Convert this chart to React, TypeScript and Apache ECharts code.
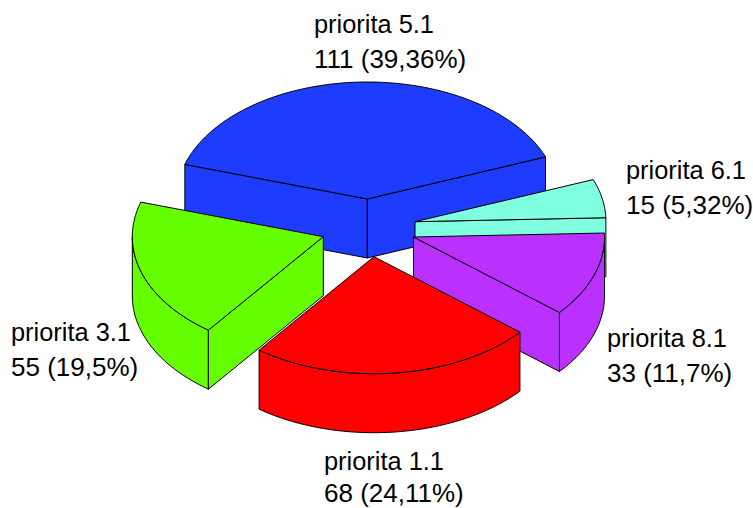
import React, { useEffect, useRef } from "react";
import * as echarts from "echarts";

const categories = ["priorita 5.1", "priorita 6.1", "priorita 8.1", "priorita 1.1", "priorita 3.1"];
const counts = [111, 15, 33, 68, 55];
const percentLabels = ["39,36", "5,32", "11,7", "24,11", "19,5"];
const colors = ["#1e3cff", "#7fffdf", "#ba30ff", "#ff0000", "#66ff00"];

// layout, in page pixels
const apexX = [367.3, 415, 413.5, 374, 323.3];
const apexY = [199, 221.7, 237, 256.7, 236.7];
const paintOrder = [0, 1, 2, 4, 3];
const labelX = [314, 626, 607, 324, 11];
const labelY = [24, 170, 338, 461, 332];
const linePitch = [35, 35, 35, 32, 35];
const RX = 191;
const RY = 117;
const DEPTH = 59;
const START_DEG = -162.8;
const FONT_SIZES = [25.4, 26];
const total = counts.reduce((a, b) => a + b, 0);

function arcPoints(cx: number, cy: number, from: number, to: number) {
  const steps = Math.max(2, Math.ceil(Math.abs(to - from) / 0.02));
  const pts: number[][] = [];
  for (let i = 0; i <= steps; i++) {
    const t = from + ((to - from) * i) / steps;
    pts.push([cx + RX * Math.cos(t), cy + RY * Math.sin(t)]);
  }
  return pts;
}

function renderSlice(params: any, api: any) {
  const i = params.dataIndex;
  const before = counts.slice(0, i).reduce((a, b) => a + b, 0);
  const base = (START_DEG * Math.PI) / 180;
  const s = base + (before / total) * Math.PI * 2;
  const e = s + (api.value(0) / total) * Math.PI * 2;
  const cx = apexX[i];
  const cy = apexY[i];
  const color = colors[i];
  const style = { fill: color, stroke: "#000", lineWidth: 1, lineJoin: "round" };
  const z = (paintOrder[i] + 1) * 10;
  const children: any[] = [];
  const poly = (points: number[][], z2: number) =>
    children.push({ type: "polygon", z2, shape: { points }, style });

  // outer wall, only where it faces the viewer
  for (const k of [0, 2]) {
    const from = Math.max(s, k * Math.PI);
    const to = Math.min(e, (k + 1) * Math.PI);
    if (to > from) {
      const top = arcPoints(cx, cy, from, to);
      const bottom = top.map(([x, y]) => [x, y + DEPTH]).reverse();
      poly([...top, ...bottom], z);
    }
  }
  // radial walls
  const wall = (t: number) => {
    const rx = cx + RX * Math.cos(t);
    const ry = cy + RY * Math.sin(t);
    poly([[cx, cy], [rx, ry], [rx, ry + DEPTH], [cx, cy + DEPTH]], z + 1);
  };
  if (-Math.cos(s) > 0) wall(s);
  if (Math.cos(e) > 0) wall(e);
  // top face
  poly([[cx, cy], ...arcPoints(cx, cy, s, e)], z + 2);

  [categories[i], `${counts[i]} (${percentLabels[i]}%)`].forEach((text, line) => {
    children.push({
      type: "text",
      z2: 200,
      style: {
        text,
        x: labelX[i],
        y: labelY[i] + line * linePitch[i],
        fill: "#000",
        fontSize: FONT_SIZES[line],
        fontFamily: "'Liberation Sans', Arial, sans-serif",
        align: "left",
        verticalAlign: "middle",
      },
    });
  });
  return { type: "group", children };
}

export default function App() {
  const ref = useRef<HTMLDivElement>(null);
  useEffect(() => {
    document.body.style.margin = "0";
    const chart = echarts.init(ref.current!, null, { renderer: "svg" });
    chart.setOption({
      animation: false,
      backgroundColor: "#fff",
      series: [
        {
          type: "custom",
          coordinateSystem: "none",
          renderItem: renderSlice,
          data: counts.map((v) => [v]),
          silent: true,
        },
      ],
    });
    return () => chart.dispose();
  }, []);
  return <div ref={ref} style={{ width: 753, height: 508 }} />;
}
